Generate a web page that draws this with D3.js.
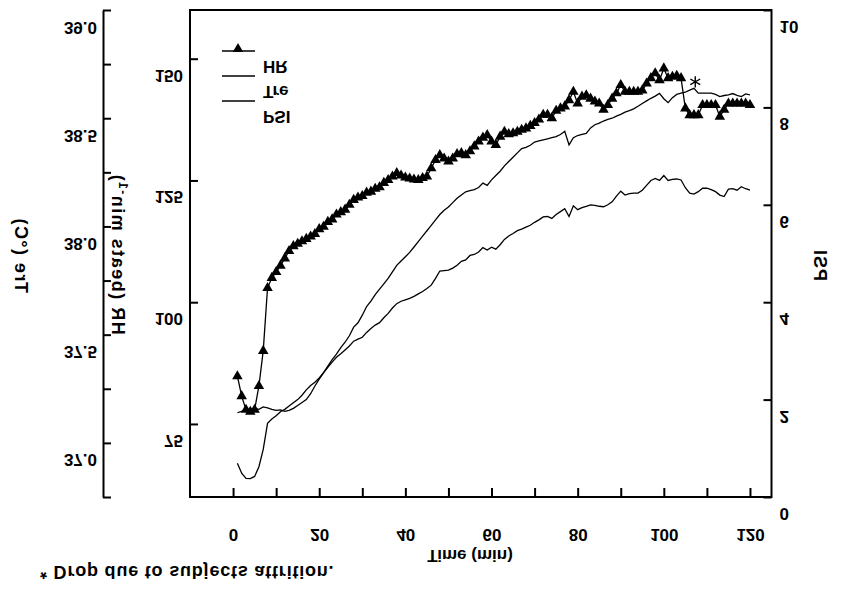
<!DOCTYPE html>
<html>
<head>
<meta charset="utf-8">
<script src="https://cdn.jsdelivr.net/npm/d3@7"></script>
<style>
  body { margin: 0; background: #fff; }
  svg text { font-family: "Liberation Sans", Arial, sans-serif; font-weight: bold; fill: #000; }
</style>
</head>
<body>
<div class="chart-container"></div>
<script>
// Data (one sample per minute)
const minutes = [
  1, 2, 3, 4, 5, 6, 7, 8, 9, 10,
  11, 12, 13, 14, 15, 16, 17, 18, 19, 20,
  21, 22, 23, 24, 25, 26, 27, 28, 29, 30,
  31, 32, 33, 34, 35, 36, 37, 38, 39, 40,
  41, 42, 43, 44, 45, 46, 47, 48, 49, 50,
  51, 52, 53, 54, 55, 56, 57, 58, 59, 60,
  61, 62, 63, 64, 65, 66, 67, 68, 69, 70,
  71, 72, 73, 74, 75, 76, 77, 78, 79, 80,
  81, 82, 83, 84, 85, 86, 87, 88, 89, 90,
  91, 92, 93, 94, 95, 96, 97, 98, 99, 100,
  101, 102, 103, 104, 105, 106, 107, 108, 109, 110,
  111, 112, 113, 114, 115, 116, 117, 118, 119, 120
];
const hr = [
  84.8, 80.7, 77.9, 77.5, 77.9, 82.8, 90.0, 102.9, 105.0, 106.2,
  107.5, 109.0, 110.5, 111.5, 112.0, 112.5, 113.0, 113.5, 114.0, 115.0,
  115.5, 116.5, 117.0, 118.0, 118.5, 119.0, 120.0, 121.0, 121.5, 121.8,
  122.5, 122.7, 123.3, 123.6, 124.5, 125.1, 125.8, 126.5, 126.0, 125.6,
  125.4, 125.2, 125.1, 125.5, 125.8, 127.5, 129.2, 130.2, 129.5, 128.9,
  129.5, 130.4, 130.6, 130.2, 131.0, 132.0, 133.0, 133.8, 134.3, 133.0,
  132.3, 134.0, 135.0, 134.5, 134.7, 135.0, 135.4, 135.7, 136.2, 136.8,
  137.5, 138.5, 138.5, 137.8, 139.3, 139.8, 140.2, 141.5, 143.2, 140.8,
  142.2, 142.5, 141.8, 141.2, 140.8, 139.5, 140.5, 141.8, 142.9, 144.6,
  143.2, 143.2, 143.2, 143.2, 143.5, 144.9, 146.0, 147.0, 145.6, 148.0,
  146.0, 146.3, 146.5, 146.0, 139.8, 138.4, 138.4, 138.4, 140.5, 140.5,
  140.5, 140.5, 138.1, 139.5, 140.8, 140.8, 140.8, 140.8, 140.8, 140.5
];
const tre = [
  36.906, 36.86, 36.836, 36.835, 36.845, 36.89, 36.97, 37.09, 37.11, 37.125,
  37.144, 37.155, 37.17, 37.185, 37.2, 37.22, 37.245, 37.265, 37.28, 37.3,
  37.325, 37.355, 37.385, 37.41, 37.44, 37.465, 37.495, 37.535, 37.555, 37.59,
  37.63, 37.655, 37.685, 37.71, 37.735, 37.76, 37.79, 37.82, 37.84, 37.86,
  37.88, 37.905, 37.93, 37.955, 37.98, 38.005, 38.03, 38.055, 38.075, 38.09,
  38.11, 38.13, 38.145, 38.16, 38.165, 38.17, 38.18, 38.2, 38.19, 38.215,
  38.235, 38.255, 38.28, 38.3, 38.32, 38.34, 38.36, 38.365, 38.375, 38.39,
  38.395, 38.4, 38.405, 38.41, 38.415, 38.425, 38.44, 38.377, 38.41, 38.42,
  38.425, 38.43, 38.455, 38.47, 38.477, 38.487, 38.495, 38.5, 38.51, 38.518,
  38.528, 38.535, 38.543, 38.555, 38.568, 38.58, 38.592, 38.602, 38.615, 38.59,
  38.572, 38.595, 38.61, 38.616, 38.62, 38.63, 38.638, 38.616, 38.616, 38.616,
  38.616, 38.61, 38.6, 38.605, 38.608, 38.614, 38.606, 38.6, 38.612, 38.608
];
const psi = [
  1.73, 1.76, 1.79, 1.80, 1.82, 1.80, 1.85, 1.83, 1.80, 1.78,
  1.79, 1.76, 1.78, 1.82, 1.88, 1.94, 2.00, 2.12, 2.28, 2.42,
  2.55, 2.66, 2.77, 2.87, 2.94, 3.02, 3.10, 3.20, 3.24, 3.28,
  3.38, 3.46, 3.53, 3.58, 3.68, 3.77, 3.88, 3.97, 4.02, 4.05,
  4.08, 4.12, 4.17, 4.22, 4.28, 4.35, 4.49, 4.64, 4.65, 4.66,
  4.70, 4.76, 4.84, 4.87, 4.96, 4.98, 5.03, 5.12, 5.07, 5.13,
  5.09, 5.18, 5.29, 5.36, 5.41, 5.47, 5.50, 5.54, 5.58, 5.64,
  5.69, 5.75, 5.76, 5.72, 5.80, 5.86, 5.92, 5.76, 5.98, 5.90,
  5.94, 5.97, 6.00, 5.99, 5.97, 5.96, 6.00, 6.06, 6.18, 6.28,
  6.20, 6.23, 6.24, 6.24, 6.30, 6.40, 6.50, 6.54, 6.50, 6.60,
  6.50, 6.52, 6.53, 6.51, 6.35, 6.24, 6.22, 6.27, 6.34, 6.34,
  6.31, 6.27, 6.20, 6.17, 6.32, 6.33, 6.30, 6.37, 6.33, 6.30
];

// Axis ticks and labels
const timeTicks = [0, 10, 20, 30, 40, 50, 60, 70, 80, 90, 100, 110, 120];
const timeLabels = [0, 20, 40, 60, 80, 100, 120];
const hrTicks = [75, 100, 125, 150];
const treTicks = [36.75, 37.0, 37.25, 37.5, 37.75, 38.0, 38.25, 38.5, 38.75, 39.0];
const treLabels = [37.0, 37.5, 38.0, 38.5, 39.0];
const psiTicks = [0, 2, 4, 6, 8, 10];
const legendNames = ['HR', 'Tre', 'PSI'];
const dropMark = { minute: 107.3, tre: 38.668 };

// Frame of the plot
const margin = { top: 10, left: 190 },
    width = 581.5,
    height = 487;
const bottom = margin.top + height;

const svg = d3.select('.chart-container')
    .append('svg')
    .attr('width', 841)
    .attr('height', 611);

const x = d3.scaleLinear().domain([-10, 125]).range([margin.left, margin.left + width]);
const yHR = d3.scaleLinear().domain([60, 160]).range([bottom, margin.top]);
const yTre = d3.scaleLinear().domain([36.75, 39]).range([bottom, margin.top]);
const yPSI = d3.scaleLinear().domain([0, 10]).range([bottom, margin.top]);

// the source figure has every glyph mirrored about its baseline
function flipText(sel, dx, dy, rot) {
    sel.attr('x', null).attr('y', null).attr('dy', null)
        .attr('transform', `translate(${dx},${dy})${rot ? ` rotate(${rot})` : ''} scale(1,-1)`);
}

function styleAxis(g, anchor) {
    g.attr('font-family', null).attr('font-size', 17);
    g.selectAll('line').attr('stroke-width', 2);
    g.selectAll('path').attr('stroke-width', 2);
    g.selectAll('text').attr('text-anchor', anchor);
}

// X axis (ticks pointing up into the plot)
const gx = svg.append('g')
    .attr('transform', `translate(0,${bottom})`)
    .call(d3.axisTop(x).tickValues(timeTicks).tickSize(9).tickSizeOuter(0)
        .tickFormat(d => timeLabels.includes(d) ? d : ''));
gx.select('.domain').remove();
styleAxis(gx, 'middle');
gx.selectAll('text').call(flipText, 0, 32);

// HR axis on the frame's left side
const gHR = svg.append('g')
    .attr('transform', `translate(${margin.left},0)`)
    .call(d3.axisRight(yHR).tickValues(hrTicks).tickSize(8).tickSizeOuter(0));
gHR.select('.domain').remove();
styleAxis(gHR, 'end');
gHR.selectAll('text').call(flipText, -7, 10.5);

// PSI axis on the frame's right side
const gPSI = svg.append('g')
    .attr('transform', `translate(${margin.left + width},0)`)
    .call(d3.axisLeft(yPSI).tickValues(psiTicks).tickSize(8).tickSizeOuter(0));
gPSI.select('.domain').remove();
styleAxis(gPSI, 'start');
gPSI.selectAll('text').call(flipText, 8, 10.5);

// Separate Tre axis further left
const gTre = svg.append('g')
    .attr('transform', 'translate(103,0)')
    .call(d3.axisRight(yTre).tickValues(treTicks).tickSize(8).tickSizeOuter(0)
        .tickFormat(d => treLabels.includes(d) ? d3.format('.1f')(d) : ''));
styleAxis(gTre, 'end');
gTre.selectAll('text').call(flipText, -6, 11);

// Plot frame
svg.append('rect')
    .attr('x', margin.left).attr('y', margin.top)
    .attr('width', width).attr('height', height)
    .attr('fill', 'none').attr('stroke', '#000').attr('stroke-width', 2);

// Lines
const lineOf = (values, y) => d3.line()
    .x((d, i) => x(minutes[i]))
    .y(d => y(d))(values);

svg.append('path').attr('d', lineOf(tre, yTre))
    .attr('fill', 'none').attr('stroke', '#000').attr('stroke-width', 1.3);
svg.append('path').attr('d', lineOf(psi, yPSI))
    .attr('fill', 'none').attr('stroke', '#000').attr('stroke-width', 1.3);
svg.append('path').attr('d', lineOf(hr, yHR))
    .attr('fill', 'none').attr('stroke', '#000').attr('stroke-width', 1.3);

// HR markers
const tri = d3.symbol().type(d3.symbolTriangle).size(48);
svg.append('g')
    .selectAll('path')
    .data(hr)
    .enter()
    .append('path')
    .attr('d', tri)
    .attr('transform', (d, i) => `translate(${x(minutes[i])},${yHR(d)})`)
    .attr('fill', '#000');

// asterisk marking the drop
const asterisk = {
    draw(ctx, size) {
        const r = Math.sqrt(size) / 2;
        for (let k = 0; k < 3; k++) {
            const a = Math.PI / 2 + k * Math.PI / 3;
            ctx.moveTo(r * Math.cos(a), r * Math.sin(a));
            ctx.lineTo(-r * Math.cos(a), -r * Math.sin(a));
        }
    }
};
svg.append('path')
    .attr('d', d3.symbol().type(asterisk).size(130)())
    .attr('transform', `translate(${x(dropMark.minute)},${yTre(dropMark.tre)})`)
    .attr('fill', 'none').attr('stroke', '#000').attr('stroke-width', 1.4);

// Legend
const legend = svg.append('g');
legendNames.forEach((name, i) => {
    const ly = 51 + i * 25;
    legend.append('line')
        .attr('x1', 222).attr('x2', 255).attr('y1', ly).attr('y2', ly)
        .attr('stroke', '#000').attr('stroke-width', 1.3);
    legend.append('text')
        .attr('font-size', 17)
        .text(name)
        .call(flipText, 263, ly + 10);
});
legend.append('path')
    .attr('d', tri)
    .attr('transform', 'translate(238,49)')
    .attr('fill', '#000');

// Axis titles
svg.append('text').attr('font-size', 17).attr('text-anchor', 'middle')
    .text('Time (min)')
    .call(flipText, 470, 550);

const hrTitle = svg.append('text').attr('font-size', 18)
    .attr('letter-spacing', 1.5).attr('text-anchor', 'middle');
hrTitle.append('tspan').text('HR (beats min');
hrTitle.append('tspan').attr('font-size', 12).attr('dy', '-0.6em').text('-1');
hrTitle.append('tspan').attr('dy', '0.4em').text(')');
hrTitle.call(flipText, 112, 254, -90);

svg.append('text').attr('font-size', 18)
    .attr('letter-spacing', 1.5).attr('text-anchor', 'middle')
    .text('Tre (°C)')
    .call(flipText, 15, 255, -90);

svg.append('text').attr('font-size', 18)
    .attr('letter-spacing', 1).attr('text-anchor', 'middle')
    .text('PSI')
    .call(flipText, 814, 265, -90);

svg.append('text').attr('font-size', 18).attr('letter-spacing', 0.8)
    .text('* Drop due to subjects attrition.')
    .call(flipText, 40, 566);
</script>
</body>
</html>
